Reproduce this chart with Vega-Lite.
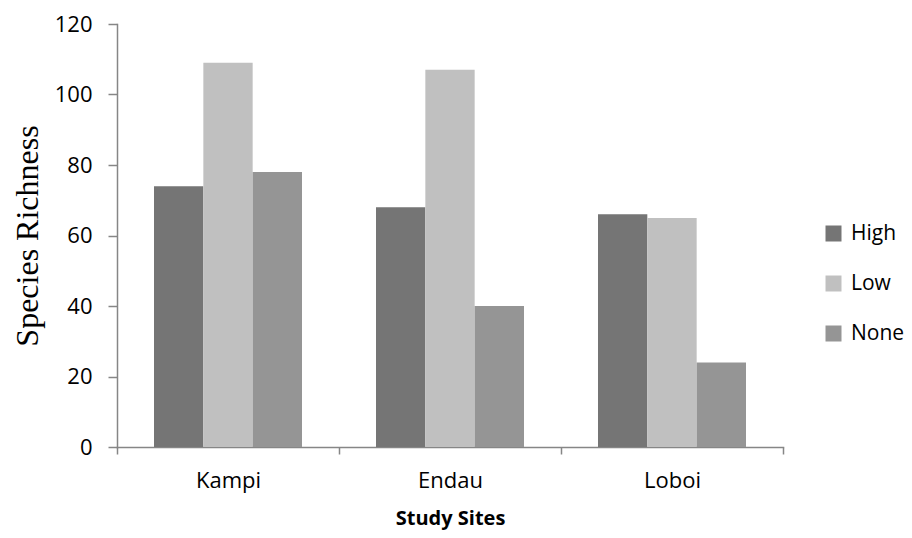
{
  "$schema": "https://vega.github.io/schema/vega-lite/v6.json",
  "autosize": {"type": "none"},
  "padding": {"left": 117, "top": 24, "right": 129, "bottom": 91},
  "width": 666,
  "height": 423,
  "background": "white",
  "data": {
    "values": [
      {"site": "Kampi", "level": "High", "richness": 74},
      {"site": "Kampi", "level": "Low", "richness": 109},
      {"site": "Kampi", "level": "None", "richness": 78},
      {"site": "Endau", "level": "High", "richness": 68},
      {"site": "Endau", "level": "Low", "richness": 107},
      {"site": "Endau", "level": "None", "richness": 40},
      {"site": "Loboi", "level": "High", "richness": 66},
      {"site": "Loboi", "level": "Low", "richness": 65},
      {"site": "Loboi", "level": "None", "richness": 24}
    ]
  },
  "mark": {"type": "bar"},
  "encoding": {
    "x": {
      "field": "site",
      "type": "nominal",
      "sort": ["Kampi", "Endau", "Loboi"],
      "scale": {"paddingInner": 0, "paddingOuter": 0},
      "axis": {
        "title": "Study Sites",
        "titleFont": "Open Sans",
        "titleFontSize": 20,
        "titleFontWeight": "bold",
        "titleColor": "#000000",
        "titlePadding": 17,
        "labelFont": "Open Sans",
        "labelFontSize": 22,
        "labelColor": "#000000",
        "labelAngle": 0,
        "labelPadding": 16,
        "tickBand": "extent",
        "tickSize": 7,
        "tickColor": "#868686",
        "tickWidth": 1.5,
        "domainColor": "#868686",
        "domainWidth": 1.5
      }
    },
    "xOffset": {
      "field": "level",
      "type": "nominal",
      "sort": ["High", "Low", "None"],
      "scale": {"paddingInner": 0, "paddingOuter": 0.75}
    },
    "y": {
      "field": "richness",
      "type": "quantitative",
      "scale": {"domain": [0, 120], "nice": false},
      "axis": {
        "title": "Species Richness",
        "titleFont": "Liberation Serif",
        "titleFontSize": 32,
        "titleFontWeight": "normal",
        "titleColor": "#000000",
        "titlePadding": 10,
        "values": [0, 20, 40, 60, 80, 100, 120],
        "labelFont": "Open Sans",
        "labelFontSize": 22,
        "labelColor": "#000000",
        "labelPadding": 16,
        "tickSize": 9,
        "tickColor": "#868686",
        "tickWidth": 1.5,
        "domainColor": "#868686",
        "domainWidth": 1.5,
        "grid": false
      }
    },
    "color": {
      "field": "level",
      "type": "nominal",
      "sort": ["High", "Low", "None"],
      "scale": {"domain": ["High", "Low", "None"], "range": ["#757575", "#c0c0c0", "#959595"]},
      "legend": {
        "title": null,
        "orient": "none",
        "legendX": 706,
        "legendY": 199,
        "padding": 0,
        "symbolType": "square",
        "symbolSize": 256,
        "symbolStrokeWidth": 0,
        "symbolOpacity": 1,
        "labelFont": "Open Sans",
        "labelFontSize": 21,
        "labelColor": "#000000",
        "labelOffset": 7,
        "rowPadding": 28
      }
    }
  },
  "config": {
    "view": {"stroke": null},
    "axis": {"domainCap": "square"}
  }
}
